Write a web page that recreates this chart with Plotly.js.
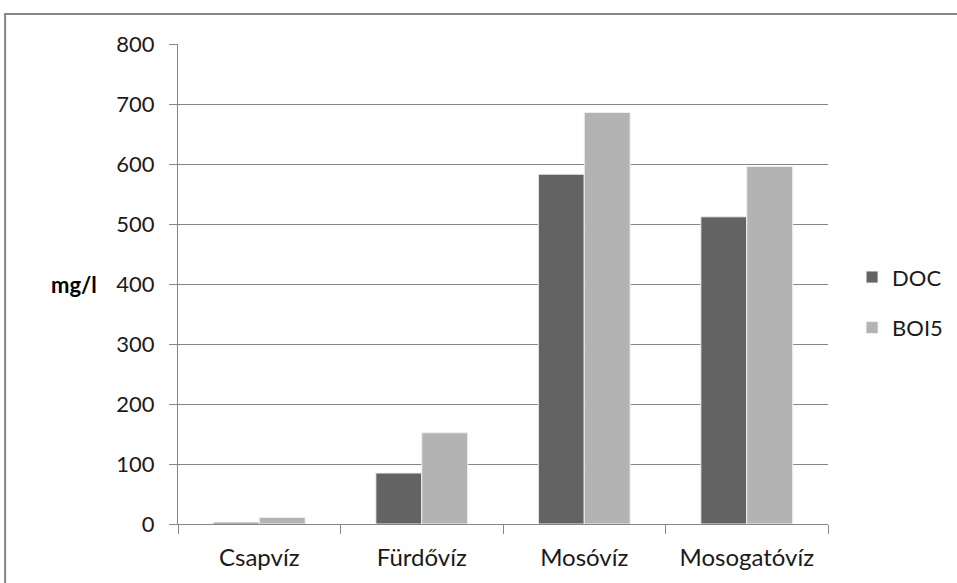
<!DOCTYPE html>
<html><head><meta charset="utf-8">
<script src="https://cdn.plot.ly/plotly-3.0.1.min.js"></script>
<style>html,body{margin:0;padding:0;background:#fff;}#chart{width:957px;height:583px;}</style>
</head><body><div id="chart"></div>
<script>
const categories = ["Csapvíz", "Fürdővíz", "Mosóvíz", "Mosogatóvíz"];
const docValues = [3, 85, 583, 512];
const boi5Values = [11, 152, 686, 596];
const seriesNames = ["DOC", "BOI5"];
const yTicks = [0, 100, 200, 300, 400, 500, 600, 700, 800];
const yTitle = "mg/l";

const font = "Lato, 'Open Sans', sans-serif";
const fs = 22;
const traces = [
  {type: "bar", name: seriesNames[0], legendgroup: "a", x: categories, y: docValues,
   marker: {color: "#636363", line: {color: "#f0f0f0", width: 1}}},
  {type: "bar", name: seriesNames[1], legendgroup: "b", x: categories, y: boi5Values,
   marker: {color: "#b3b3b3", line: {color: "#f0f0f0", width: 1}}}
];
const layout = {
  width: 957, height: 583,
  margin: {l: 178, r: 129, t: 44, b: 59, autoexpand: false},
  paper_bgcolor: "#fff", plot_bgcolor: "#fff",
  barmode: "group", bargap: 0.435, bargroupgap: 0,
  font: {family: font, size: fs, color: "#1a1a1a"},
  xaxis: {
    showgrid: false, showline: true, linecolor: "#868686", linewidth: 1,
    ticks: "outside", tickson: "boundaries", ticklen: 9, tickcolor: "#868686",
    ticklabelstandoff: 12, automargin: false,
    tickfont: {family: font, size: 24, color: "#1a1a1a"}, zeroline: false
  },
  yaxis: {
    range: [0, 800], tickvals: yTicks, ticktext: yTicks.map(String),
    showgrid: true, gridcolor: "#868686", gridwidth: 1,
    showline: true, linecolor: "#868686", linewidth: 1,
    ticks: "outside", ticklen: 8, tickcolor: "#868686",
    ticklabelstandoff: 10, automargin: false,
    tickfont: {family: font, size: fs, color: "#1a1a1a"}, zeroline: false
  },
  annotations: [{text: "<b>" + yTitle + "</b>", xref: "paper", yref: "paper",
    x: -0.1215, y: 0.498, xanchor: "right", yanchor: "middle", showarrow: false,
    font: {family: font, size: fs, color: "#000"}}],
  showlegend: true,
  legend: {x: 1.037, y: 0.461, xanchor: "left", yanchor: "middle",
    traceorder: "grouped", tracegroupgap: 19,
    font: {family: font, size: fs, color: "#1a1a1a"},
    itemwidth: 30, bgcolor: "rgba(0,0,0,0)"},
  shapes: [{type: "rect", xref: "paper", yref: "paper",
    x0: -0.266, x1: 2, y0: -1, y1: 1.0625,
    line: {color: "#868686", width: 2}, fillcolor: "rgba(0,0,0,0)", layer: "below"}]
};
Plotly.newPlot("chart", traces, layout, {displayModeBar: false, staticPlot: true});
</script></body></html>
